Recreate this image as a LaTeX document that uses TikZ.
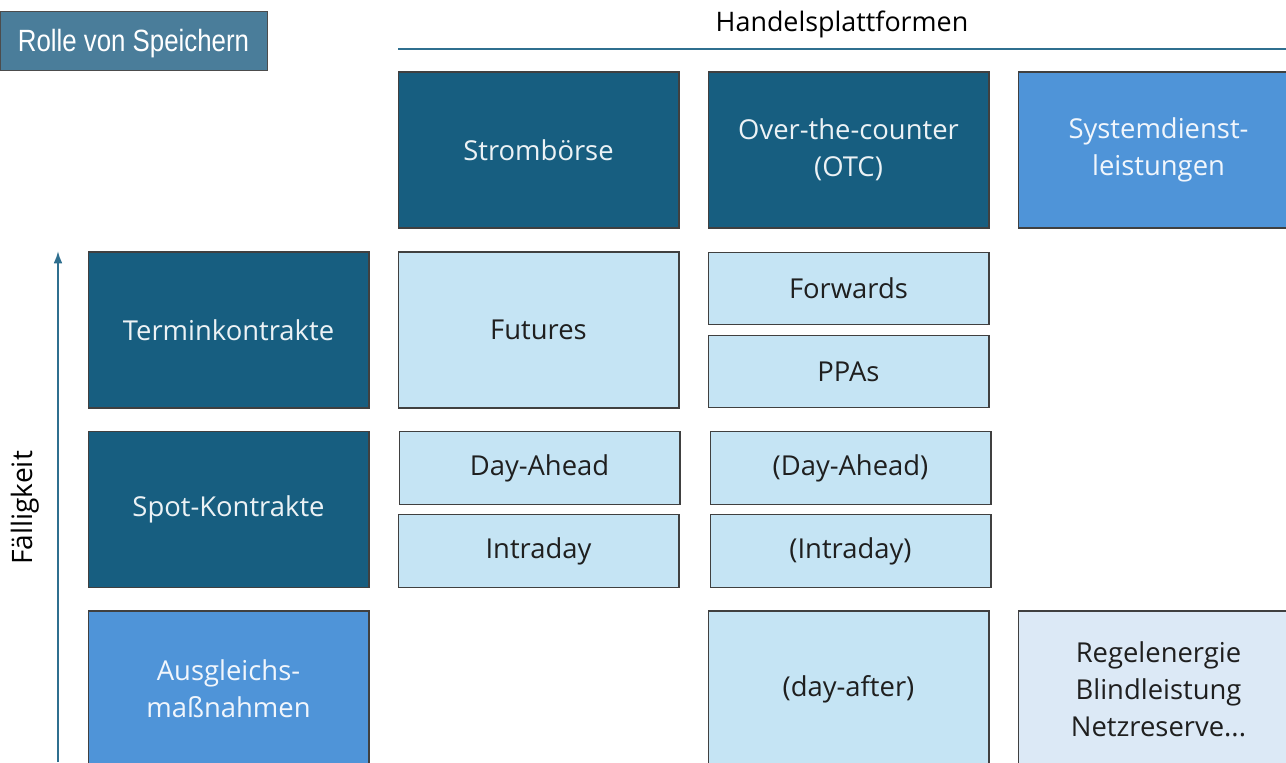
\documentclass[tikz,border=0pt]{standalone}
\usepackage{fontspec}
\setmainfont{Open Sans}
\newfontfamily\arialfont[FakeStretch=0.84]{Liberation Sans}
\usetikzlibrary{positioning,arrows.meta}

\definecolor{darkbox}{HTML}{175E80}
\definecolor{midbox}{HTML}{4F94D8}
\definecolor{lightbox}{HTML}{C5E4F4}
\definecolor{paleboxc}{HTML}{DCE9F6}
\definecolor{rollebox}{HTML}{4A7D9A}
\definecolor{axiscol}{HTML}{2F6F8F}

\begin{document}
\begin{tikzpicture}[x=0.02cm,y=-0.02cm,
    cell/.style={draw=black!75,line width=0.6pt,inner sep=0pt,align=center,
      minimum width=5.62cm,minimum height=3.12cm,
      font=\fontsize{15.6}{21}\selectfont},
    halfcell/.style={cell,minimum height=1.45cm},
    darkcell/.style={fill=darkbox,text=white!92!darkbox},
    midcell/.style={fill=midbox,text=white!92!midbox},
    lightcell/.style={fill=lightbox,text=black!88},
    palecell/.style={fill=paleboxc,text=black!88}]
  \path[use as bounding box,clip] (0,0) rectangle (1286,762);

  % titel
  \node[draw=black!70,fill=rollebox,text=white,inner sep=0pt,text depth=0pt,
    minimum width=5.34cm,minimum height=1.18cm,
    font=\arialfont\fontsize{17.5}{19}\selectfont] (rolle) at (133.5,40.5) {Rolle von Speichern};

  % handelsplattformen
  \node[font=\fontsize{15.3}{18}\selectfont] (handel) at (842,24) {Handelsplattformen};
  \coordinate (hl) at (398,49);
  \coordinate (hr) at (1286,49);
  \draw[axiscol,line width=1.2pt] (hl) -- (hr);

  \node[cell,darkcell] (boerse) at (538.5,150) {Strombörse};
  \node[cell,darkcell] (otc) at (848.5,150) {Over-the-counter\\(OTC)};
  \node[cell,midcell] (sdl) at (1158.5,150) {Systemdienst-\\leistungen};

  % faelligkeit
  \node[cell,darkcell] (termin) at (228.5,330) {Terminkontrakte};
  \node[cell,darkcell] (spot) at (228.5,509.5) {Spot-Kontrakte};
  \node[cell,midcell] (ausgl) at (228.5,689) {Ausgleichs-\\maßnahmen};

  \node[cell,lightcell] (futures) at (538.5,330) {Futures};
  \node[halfcell,lightcell] (forwards) at (848.5,288.5) {Forwards};
  \node[halfcell,lightcell] (ppas) at (848.5,371.5) {PPAs};

  \node[halfcell,lightcell] (dayahead) at (539.5,468) {Day-Ahead};
  \node[halfcell,lightcell] (intraday) at (538.5,551) {Intraday};
  \node[halfcell,lightcell] (otcdayahead) at (850.5,468) {(Day-Ahead)};
  \node[halfcell,lightcell] (otcintraday) at (850.5,551) {(Intraday)};

  \node[cell,lightcell] (dayafter) at (848.5,689) {(day-after)};
  \node[cell,palecell] (regel) at (1158.5,689) {Regelenergie\\Blindleistung\\Netzreserve...};

  \coordinate (abot) at (58,762);
  \coordinate (atop) at (58,251);
  \draw[axiscol,line width=1.1pt,-{Latex[length=7pt,width=5pt]}] (abot) -- (atop);
  \node[rotate=90,font=\fontsize{16}{18}\selectfont] (faellig) at (25,508) {Fälligkeit};
\end{tikzpicture}
\end{document}
